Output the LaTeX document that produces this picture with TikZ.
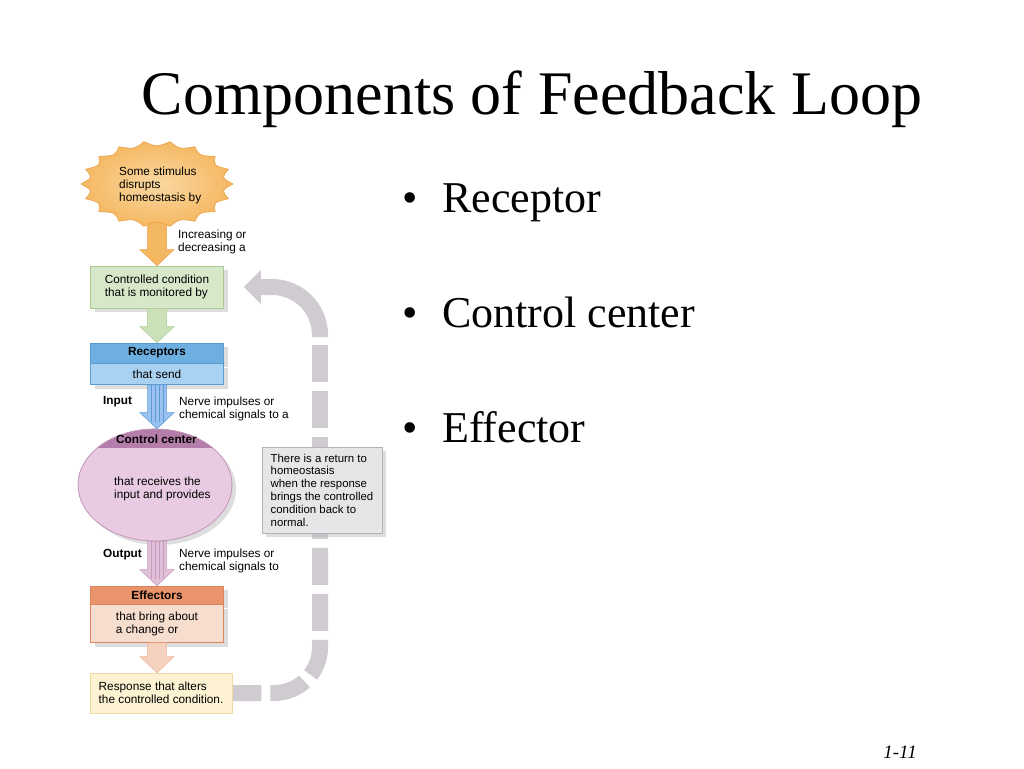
\documentclass[tikz,border=0pt]{standalone}
\usepackage{fontspec}
\setmainfont{Liberation Serif}
\newfontfamily\diagfont{Liberation Sans}
\usetikzlibrary{calc,shapes.geometric,shadows,arrows.meta,backgrounds}
\definecolor{stimfill}{HTML}{F5B862}
\definecolor{stimin}{HTML}{FAD8A2}
\definecolor{stimline}{HTML}{EAA24A}
\definecolor{condfill}{HTML}{D7E8C9}
\definecolor{condline}{HTML}{A9CB93}
\definecolor{condarr}{HTML}{CBE1B8}
\definecolor{recephd}{HTML}{6CAFE0}
\definecolor{recepbd}{HTML}{A9D1F1}
\definecolor{recepline}{HTML}{5A9BD0}
\definecolor{ctrlfill}{HTML}{E8CBE2}
\definecolor{ctrlcap}{HTML}{B57DA9}
\definecolor{ctrlline}{HTML}{C59BBC}
\definecolor{efhd}{HTML}{E9946B}
\definecolor{efbd}{HTML}{F7DDCE}
\definecolor{efline}{HTML}{D88560}
\definecolor{respfill}{HTML}{FDF3D3}
\definecolor{respline}{HTML}{EED9A2}
\definecolor{notefill}{HTML}{E7E5E8}
\definecolor{noteline}{HTML}{B4B2B6}
\definecolor{retgray}{HTML}{CFCBD0}
\definecolor{shadgray}{HTML}{BDBDBD}
\begin{document}
\begin{tikzpicture}[x=1pt,y=-1pt,
  lbl/.style={font=\diagfont\fontsize{11.8}{13.1}\selectfont,align=left,inner sep=0pt},
  hd/.style={lbl,font=\diagfont\bfseries\fontsize{11.8}{13.1}\selectfont},
  notetxt/.style={lbl,font=\diagfont\fontsize{11.4}{12.8}\selectfont},
  shad/.style={drop shadow={shadow xshift=4pt,shadow yshift=-4pt,fill=shadgray}},
  colbox/.style={minimum width=133pt,line width=.6pt},
  arrS/.style={fill=stimfill,draw=stimline,line width=.5pt},
  arrG/.style={fill=condarr,draw=condline,line width=.5pt},
  arrB/.style={fill=recepbd!92!blue,draw=recepline,line width=.5pt},
  arrP/.style={fill=ctrlfill!85!ctrlcap,draw=ctrlline,line width=.5pt},
  arrO/.style={fill=efbd!85!efhd,draw=efhd!70,line width=.5pt},
  retline/.style={retgray,line width=16pt}]
\useasboundingbox (0,0) rectangle (1024,768);

\node[font=\fontsize{62}{70}\selectfont,anchor=base,inner sep=0pt] (title) at (532,114) {Components of Feedback Loop};
\foreach \y/\t [count=\i] in {212/Receptor,327/Control center,442/Effector}
  \node[font=\fontsize{44}{50}\selectfont,anchor=base west,inner sep=0pt] (item\i) at (402,\y) {\makebox[40pt][l]{\textbullet}\t};
\node[font=\itshape\fontsize{19}{22}\selectfont,anchor=base east,inner sep=0pt] (page) at (917,758) {1-11};

\coordinate (col) at (157,0);
\coordinate (stimbot) at (157,215);

% stimulus burst
\shadedraw[inner color=stimin,outer color=stimfill,draw=stimline,line width=.6pt] (233,184)
  \foreach \k in {1,...,18}{ .. controls ({157+.86*76*cos(\k*20-10)},{184+.86*43*sin(\k*20-10)}) .. ({157+76*cos(\k*20)},{184+43*sin(\k*20)}) } -- cycle;
\node[lbl,anchor=north west] (stim) at (119,166.5) {Some stimulus\\disrupts\\homeostasis by};
\node[lbl,anchor=north west] (incr) at (178,229.5) {Increasing or\\decreasing a};

\node[lbl,colbox,draw=condline,fill=condfill,minimum height=42pt,shad] (cond) at (157,287) {Controlled condition\\that is monitored by};

\node[hd,colbox,draw=recepline,fill=recephd,minimum height=20pt,shad] (recephead) at (157,353) {Receptors};
\node[lbl,colbox,draw=recepline,fill=recepbd,minimum height=21pt,anchor=north,shad] (recepbody) at (recephead.south) {that send};
\node[hd,anchor=base west] (input) at (103,404) {Input};
\node[lbl,anchor=north west] (sig1) at (179,396.5) {Nerve impulses or\\chemical signals to a};

\node[ellipse,draw=ctrlline,fill=ctrlfill,line width=.6pt,minimum width=154pt,minimum height=112pt,inner sep=0pt,shad] (ctrl) at (155,485) {};
\begin{scope}
  \clip (ctrl.center) ellipse [x radius=77pt,y radius=56pt];
  \fill[ctrlcap] (70,420) rectangle (240,448);
\end{scope}
\draw[ctrlline,line width=.6pt] (ctrl.center) ellipse [x radius=77pt,y radius=56pt];
\node[hd,anchor=base] (ctrlhead) at (156.5,443) {Control center};
\node[lbl,anchor=north west] (ctrltext) at (114,476.5) {that receives the\\input and provides};

\node[hd,anchor=base west] (output) at (103,557) {Output};
\node[lbl,anchor=north west] (sig2) at (179,548.5) {Nerve impulses or\\chemical signals to};

\node[hd,colbox,draw=efline,fill=efhd,minimum height=18pt,shad] (efhead) at (157,595) {Effectors};
\node[lbl,colbox,draw=efline,fill=efbd,minimum height=38pt,anchor=north,shad] (efbody) at (efhead.south) {that bring about\\a change or};

\node[lbl,draw=respline,fill=respfill,line width=.6pt,minimum width=142pt,minimum height=40pt] (resp) at (161,693) {Response that alters\\the controlled condition.};

\node[notetxt,draw=noteline,fill=notefill,line width=.6pt,minimum width=120pt,minimum height=86pt,shad] (note) at (322,490) {There is a return to\\homeostasis\\when the response\\brings the controlled\\condition back to\\normal.};

% return to homeostasis
\coordinate (bend) at (320,337);
\begin{scope}[on background layer]
  \draw[retline,dash pattern=on 37pt off 9pt,dash phase=8pt,rounded corners=46pt] (resp.east) -| (note.south -| bend);
  \draw[retline,dash pattern=on 37pt off 9pt,dash phase=27pt] (note.north -| bend) -- (bend);
  \draw[retline,rounded corners=48pt,-{Triangle[length=17pt,width=33pt]},shorten >=20pt] (bend) |- (cond.east);
  \filldraw[arrS] ($(stimbot -| col)+(-9.5,0)$) -- ($(cond.north -| col)+(-9.5,-16)$) -- ($(cond.north -| col)+(-17,-16)$) -- (cond.north -| col)
    -- ($(cond.north -| col)+(17,-16)$) -- ($(cond.north -| col)+(9.5,-16)$) -- ($(stimbot -| col)+(9.5,0)$) -- cycle;
\end{scope}

% block arrows
\foreach \s/\e/\st in {cond.south/recephead.north/arrG,recepbody.south/ctrl.north/arrB,ctrl.south/efhead.north/arrP,efbody.south/resp.north/arrO}
{
  \filldraw[\st] ($(\s -| col)+(-9.5,0)$) -- ($(\e -| col)+(-9.5,-16)$) -- ($(\e -| col)+(-17,-16)$) -- (\e -| col)
    -- ($(\e -| col)+(17,-16)$) -- ($(\e -| col)+(9.5,-16)$) -- ($(\s -| col)+(9.5,0)$) -- cycle;
}
\foreach \s/\e/\c in {recepbody.south/ctrl.north/recepline,ctrl.south/efhead.north/ctrlline}
  \foreach \dx in {-6,-2,2,6}
    \draw[\c,line width=.5pt] ($(\s -| col)+(\dx,0)$) -- ($(\e -| col)+(\dx,-7)$);

\end{tikzpicture}
\end{document}
